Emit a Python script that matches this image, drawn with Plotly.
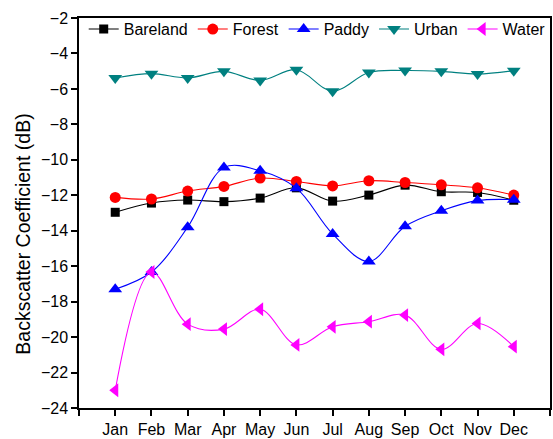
import plotly.graph_objects as go

months = ["Jan", "Feb", "Mar", "Apr", "May", "Jun", "Jul", "Aug", "Sep", "Oct", "Nov", "Dec"]
month_pos = list(range(1, 13))

bareland = [-12.96, -12.44, -12.27, -12.36, -12.16, -11.58, -12.33, -11.99, -11.43, -11.80, -11.84, -12.28]
forest = [-12.12, -12.21, -11.76, -11.50, -11.03, -11.22, -11.47, -11.18, -11.28, -11.41, -11.58, -11.99]
paddy = [-17.30, -16.33, -13.80, -10.44, -10.62, -11.60, -14.18, -15.73, -13.75, -12.87, -12.30, -12.25]
urban = [-5.38, -5.14, -5.38, -5.01, -5.52, -4.92, -6.13, -5.07, -4.96, -5.01, -5.16, -4.97]
water = [-23.00, -16.33, -19.27, -19.55, -18.43, -20.44, -19.42, -19.13, -18.76, -20.69, -19.23, -20.54]

series = [
    ("Bareland", bareland, "#000000", "square", 9),
    ("Forest", forest, "#ff0000", "circle", 11),
    ("Paddy", paddy, "#0000ff", "triangle-up", 12),
    ("Urban", urban, "#008080", "triangle-down", 12),
    ("Water", water, "#ff00ff", "triangle-left", 12),
]

FONT = "Liberation Sans, Arial, sans-serif"

fig = go.Figure()
for name, vals, color, symbol, size in series:
    fig.add_trace(go.Scatter(
        x=month_pos, y=vals, name=name, mode="lines+markers",
        line=dict(color=color, width=1.1, shape="spline", smoothing=1.0),
        marker=dict(symbol=symbol, size=size, color=color, line=dict(width=0)),
    ))

axis_common = dict(
    showline=True, linecolor="#000000", linewidth=1.5, mirror=True,
    ticks="outside", ticklen=6, tickwidth=1.5, tickcolor="#000000",
    showgrid=False, zeroline=False,
    tickfont=dict(family=FONT, size=16, color="#000000"),
)

fig.update_xaxes(
    range=[0, 13],
    tickvals=list(range(0, 14)),
    ticktext=[""] + months + [""],
    **axis_common,
)
fig.update_yaxes(
    range=[-24, -2],
    tickvals=list(range(-24, -1, 2)),
    **axis_common,
)

# y-axis title placed as a rotated annotation so it can sit slightly below centre
fig.add_annotation(
    text="Backscatter Coefficient (dB)", textangle=-90,
    xref="paper", yref="y", x=-0.118, y=-14.2,
    xanchor="center", yanchor="middle", showarrow=False,
    font=dict(family=FONT, size=19.5, color="#000000"),
)

fig.update_layout(
    width=553, height=439,
    margin=dict(l=79, r=1, t=18, b=29),
    paper_bgcolor="#ffffff", plot_bgcolor="#ffffff",
    showlegend=True,
    legend=dict(
        orientation="h", x=0.01, y=1.015, xanchor="left", yanchor="top",
        font=dict(family=FONT, size=16, color="#000000"),
        bgcolor="rgba(0,0,0,0)", itemwidth=30, tracegroupgap=0,
    ),
)

fig.write_html("out.html")
